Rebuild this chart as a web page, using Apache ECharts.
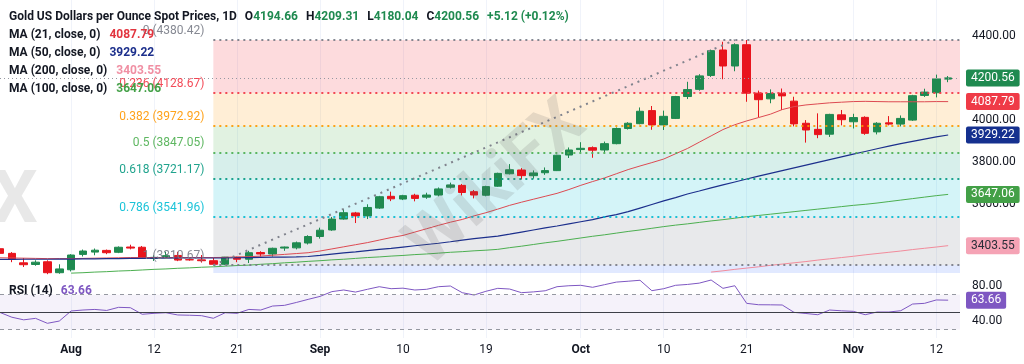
<!DOCTYPE html>
<html>
<head>
<meta charset="utf-8">
<script src="https://cdn.jsdelivr.net/npm/echarts@6/dist/echarts.min.js"></script>
<style>
html,body{margin:0;padding:0;background:#fff;}
#c{width:1024px;height:364px;}
</style>
</head>
<body>
<div id="c"></div>
<script>
// ---------------- DATA ----------------
const dates = ["Jul 24","Jul 25","Jul 28","Jul 29","Jul 30","Jul 31","Aug 1","Aug 4","Aug 5","Aug 6","Aug 7","Aug 8","Aug 11","Aug 12","Aug 13","Aug 14","Aug 15","Aug 18","Aug 19","Aug 20","Aug 21","Aug 22","Aug 25","Aug 26","Aug 27","Aug 28","Aug 29","Sep 1","Sep 2","Sep 3","Sep 4","Sep 5","Sep 8","Sep 9","Sep 10","Sep 11","Sep 12","Sep 15","Sep 16","Sep 17","Sep 18","Sep 19","Sep 22","Sep 23","Sep 24","Sep 25","Sep 26","Sep 29","Sep 30","Oct 1","Oct 2","Oct 3","Oct 6","Oct 7","Oct 8","Oct 9","Oct 10","Oct 13","Oct 14","Oct 15","Oct 16","Oct 17","Oct 20","Oct 21","Oct 22","Oct 23","Oct 24","Oct 27","Oct 28","Oct 29","Oct 30","Oct 31","Nov 3","Nov 4","Nov 5","Nov 6","Nov 7","Nov 10","Nov 11","Nov 12","Nov 13","Nov 14"];

const opens  = [3389,3367,3322,3314,3327,3275,3289,3362,3373,3381,3372,3397,3396,3343,3348,3357,3337,3336,3332,3315,3348,3339,3371,3364,3392,3393,3416,3447,3478,3530,3559,3545,3582,3638,3625,3643,3634,3644,3681,3690,3660,3643,3686,3745,3763,3736,3750,3760,3834,3860,3869,3858,3888,3960,3983,4045,3977,4008,4112,4146,4212,4333,4257,4358,4128,4101,4128,4090,3985,3956,3933,4025,3992,4013,3944,3987,3981,4000,4117,4130,4194.66];
const closes = [3367,3339,3313,3325,3275,3293,3359,3378,3382,3370,3396,3392,3344,3348,3356,3335,3336,3332,3315,3349,3339,3370,3364,3391,3397,3417,3447,3477,3530,3560,3545,3585,3636,3626,3641,3628,3644,3673,3692,3656,3644,3684,3747,3764,3736,3749,3760,3833,3858,3866,3857,3888,3960,3985,4042,3977,4018,4112,4145,4210,4330,4257,4358,4128,4097,4126,4115,3982,3953,3931,4027,4002,4012,3937,3985,3981,4008,4116,4133,4195.44,4200.56];
const lows   = [3352,3325,3302,3308,3268,3270,3281,3352,3358,3363,3368,3386,3342,3331,3344,3330,3332,3323,3314,3311,3325,3321,3352,3352,3379,3386,3409,3437,3474,3527,3511,3530,3578,3615,3620,3614,3626,3638,3675,3642,3628,3638,3683,3742,3718,3722,3740,3758,3820,3848,3821,3846,3885,3955,3980,3954,3953,4005,4100,4140,4205,4194,4232,4087,4013,4080,4048,3970,3893,3914,3920,3975,3960,3930,3932,3975,3970,3996,4110,4108,4180.04];
const highs  = [3394,3373,3345,3334,3334,3315,3363,3385,3390,3385,3400,3408,3402,3358,3375,3374,3345,3359,3345,3350,3351,3379,3377,3394,3399,3423,3453,3489,3540,3578,3564,3600,3640,3660,3645,3650,3655,3680,3703,3697,3668,3688,3750,3791,3772,3761,3775,3835,3870,3895,3875,3898,3965,3990,4060,4067,4045,4115,4182,4218,4335,4372,4365,4380.42,4140,4146,4150,4111,4000,4032,4030,4048,4030,4018,3990,4019,4022,4120,4149,4216,4209.31];

const ma21 = [3346,3345,3344,3343,3342,3342,3342,3343,3344,3345,3346,3347,3347,3347,3347,3347,3347,3347,3347,3348,3350,3351,3354,3358,3362,3366,3370,3378,3388,3398,3408,3418,3430,3442,3452,3468,3484,3500,3515,3528,3545,3560,3577,3595,3610,3624,3638,3652,3670,3690,3708,3725,3745,3765,3782,3798,3815,3840,3865,3895,3925,3955,3978,3996,4012,4028,4050,4064,4072,4077,4082,4085,4088,4089,4088,4087,4087,4087,4087,4088,4087.79];
const ma50 = [3338,3338,3339,3339,3339,3340,3340,3341,3341,3342,3342,3343,3343,3344,3344,3345,3345,3345,3345,3345,3346,3347,3348,3349,3349,3350,3352,3357,3363,3369,3374,3380,3386,3391,3397,3403,3409,3415,3422,3430,3437,3443,3449,3458,3468,3478,3488,3497,3507,3517,3527,3540,3551,3565,3582,3599,3616,3632,3649,3663,3678,3692,3706,3720,3734,3747,3760,3773,3786,3799,3812,3825,3838,3851,3864,3876,3888,3899,3910,3920,3929.22];
const ma100Start = 6;
const ma100 = [3273,3275,3278,3280,3283,3285,3288,3291,3293,3296,3298,3301,3303,3306,3309,3311,3315,3318,3322,3325,3329,3332,3336,3339,3343,3347,3350,3354,3357,3361,3364,3368,3372,3375,3379,3382,3386,3394,3401,3409,3417,3424,3432,3440,3448,3455,3463,3471,3478,3486,3494,3501,3507,3514,3521,3527,3534,3541,3547,3553,3559,3565,3571,3577,3583,3589,3595,3600,3606,3613,3620,3627,3634,3641,3647.06];
const ma200Start = 60;
const ma200 = [3278,3284,3291,3297,3303,3310,3316,3322,3328,3335,3341,3347,3353,3360,3366,3372,3378,3385,3391,3397,3403.55];

const rsi = [49.5,44,41,42.7,37,39.6,51.2,52.3,53,51.8,55.4,55,47.4,48.5,49.2,46.6,46.3,45.8,42.8,49.2,48.5,53,52.3,56.9,57.7,61,64.6,68,73.5,75.4,73,76.2,79.2,76.9,77.5,75.4,76.2,79.2,80,72.3,69.6,73.9,77.3,76.5,72.3,73.2,74.5,79.2,80.3,80.8,78.5,81.5,84.5,85.5,86.6,74.6,76.9,80.8,81.8,83.3,86.9,77.3,80.3,60,58.4,58.3,58.1,49.6,48.3,46.9,52.3,51.4,50.8,46.9,50,50,51.5,59.2,60,63.9,63.66];

const fibRatios = ["0","0.236","0.382","0.5","0.618","0.786","1"];
const fibPrices = [4380.42,4128.67,3972.92,3847.05,3721.17,3541.96,3310.67];
const fibStart = "Aug 19";
const fibTrendStart = "Aug 19";
const fibTrendEnd = "Oct 20";

const tickLabels = {"Aug 1":"Aug","Aug 12":"12","Aug 21":"21","Sep 1":"Sep","Sep 10":"10","Sep 19":"19","Oct 1":"Oct","Oct 10":"10","Oct 21":"21","Nov 3":"Nov","Nov 12":"12"};
const priceTicks = [3600,3800,4000,4400];
const rsiTicks = [40,80];
const rsiBands = [30,50,70];
const watermarkText = "WikiFX";

// ---------------- STYLE ----------------
const FONT = "Roboto, 'Liberation Sans', Arial, sans-serif";
const UP = '#1f8a50', DOWN = '#e8141d';
const TXT = '#131722';
const fibLineColors = ['#787b86','#f23645','#ff9800','#4caf50','#089981','#00bcd4','#787b86'];
const fibFill = ['rgba(242,54,69,0.18)','rgba(255,152,0,0.16)','rgba(76,175,80,0.17)','rgba(8,153,129,0.16)','rgba(0,188,212,0.17)','rgba(120,123,134,0.17)','rgba(41,98,255,0.14)'];
const PRICE_MIN = 3200, PRICE_MAX = 4570.5, PANEL_BOTTOM = 3273.6;
const NONE = 'rgba(0,0,0,0)';

// ---------------- BUILD ----------------
const n = opens.length;
const last = n - 1;
const lastDate = dates[dates.length - 1];
const candleData = opens.map((o, i) => [o, closes[i], lows[i], highs[i]]);
const pad = (start, arr) => new Array(start).fill(null).concat(arr);
const ma100Data = pad(ma100Start, ma100);
const ma200Data = pad(ma200Start, ma200);
const isTick = (idx) => tickLabels.hasOwnProperty(dates[idx]);

function badgeLabel(value, bg, fg) {
  return {
    show: true, position: 'end', distance: 6,
    formatter: value.toFixed(2),
    backgroundColor: bg, color: fg || '#ffffff',
    padding: [3,5,2,5], fontSize: 12, fontFamily: FONT, borderRadius: 2
  };
}
function badge(value, bg, fg) {
  return {
    silent: true,
    symbol: ['none','none'],
    emphasis: {disabled: true},
    data: [{yAxis: value, lineStyle: {color: NONE, width: 0}, label: badgeLabel(value, bg, fg)}]
  };
}

const fibAreas = [];
for (let k = 0; k < fibPrices.length - 1; k++) {
  fibAreas.push([{xAxis: fibStart, yAxis: fibPrices[k], itemStyle: {color: fibFill[k]}}, {xAxis: lastDate, yAxis: fibPrices[k+1]}]);
}
fibAreas.push([{xAxis: fibStart, yAxis: fibPrices[fibPrices.length-1], itemStyle: {color: fibFill[6]}}, {xAxis: lastDate, yAxis: PANEL_BOTTOM}]);

const fibLines = fibPrices.map((p, k) => [
  {xAxis: fibStart, yAxis: p,
   lineStyle: {color: fibLineColors[k], type: [2,4], width: 2, opacity: 0.9},
   label: {show: true, position: 'start', distance: 9, verticalAlign: 'bottom', padding: [0,0,3,0],
           formatter: fibRatios[k] + ' (' + p.toFixed(2) + ')', color: fibLineColors[k], fontSize: 12, fontFamily: FONT}},
  {xAxis: lastDate, yAxis: p}
]);
fibLines.push([
  {xAxis: fibTrendStart, yAxis: fibPrices[fibPrices.length-1], lineStyle: {color: '#80838d', type: [2,5], width: 2}, label: {show: false}},
  {xAxis: fibTrendEnd, yAxis: fibPrices[0]}
]);

const chg = closes[last] - closes[last-1];
const chgPct = chg / closes[last-1] * 100;
const sgn = (v) => (v >= 0 ? '+' : '');

const titleRich = {
  n: {color: TXT, fontSize: 12, fontFamily: FONT},
  k: {color: TXT, fontSize: 12, fontFamily: FONT, padding: [0,0,0,8]},
  v: {color: UP, fontSize: 12, fontFamily: FONT},
  r: {color: '#e2353f', fontSize: 12, fontFamily: FONT, padding: [0,0,0,9]},
  b: {color: '#1c2f8c', fontSize: 12, fontFamily: FONT, padding: [0,0,0,9]},
  p: {color: '#f08fa3', fontSize: 12, fontFamily: FONT, padding: [0,0,0,9]},
  g: {color: '#43a047', fontSize: 12, fontFamily: FONT, padding: [0,0,0,9]},
  u: {color: '#7e57c2', fontSize: 12, fontFamily: FONT, padding: [0,0,0,8]}
};
function legendTitle(text, top) {
  return {text: text, left: 9, top: top, padding: 0, z: 20, textStyle: {rich: titleRich, fontSize: 12, fontFamily: FONT, color: TXT}};
}

const option = {
  animation: false,
  backgroundColor: '#ffffff',
  textStyle: {fontFamily: FONT},
  title: [
    legendTitle('{n|Gold US Dollars per Ounce Spot Prices, 1D}{k|O}{v|' + opens[last].toFixed(2) + '}{k|H}{v|' + highs[last].toFixed(2) + '}{k|L}{v|' + lows[last].toFixed(2) + '}{k|C}{v|' + closes[last].toFixed(2) + '}{k|}{v|' + sgn(chg) + chg.toFixed(2) + ' (' + sgn(chgPct) + chgPct.toFixed(2) + '%)}', 11),
    legendTitle('{n|MA (21, close, 0)}{r|' + ma21[last].toFixed(2) + '}', 29),
    legendTitle('{n|MA (50, close, 0)}{b|' + ma50[last].toFixed(2) + '}', 47),
    legendTitle('{n|MA (200, close, 0)}{p|' + ma200[ma200.length-1].toFixed(2) + '}', 65),
    legendTitle('{n|MA (100, close, 0)}{g|' + ma100[ma100.length-1].toFixed(2) + '}', 83),
    legendTitle('{n|RSI (14)}{u|' + rsi[last].toFixed(2) + '}', 285)
  ],
  graphic: [
    {type: 'text', left: 395, top: 90, z: 30, silent: true, rotation: 0.72,
     style: {text: watermarkText, fontSize: 68, fontWeight: 'bold', fontFamily: FONT, fill: 'rgba(100,100,100,0.17)'}},
    {type: 'text', left: -8, top: 168, z: 30, silent: true,
     style: {text: 'X', fontSize: 72, fontWeight: 'bold', fontFamily: FONT, fill: 'rgba(100,100,100,0.15)'}}
  ],
  grid: [
    {left: 0, right: 64, top: 0, height: 288.5},
    {left: 0, right: 64, top: 268.65, height: 69.4}
  ],
  xAxis: [
    {type: 'category', gridIndex: 0, data: dates, boundaryGap: false,
     axisLine: {show: false}, axisTick: {show: false}, axisLabel: {show: false},
     splitLine: {show: true, interval: (i) => isTick(i), lineStyle: {color: '#f0f3fa', width: 1}}},
    {type: 'category', gridIndex: 1, data: dates, boundaryGap: false,
     axisLine: {show: false}, axisTick: {show: false},
     splitLine: {show: true, interval: (i) => isTick(i), lineStyle: {color: '#f0f3fa', width: 1}},
     axisLabel: {show: true, margin: 6, interval: (i) => isTick(i), fontSize: 12, color: TXT, fontFamily: FONT,
       formatter: (v) => { const t = tickLabels[v] || ''; return /^[A-Z]/.test(t) ? '{m|' + t + '}' : t; },
       rich: {m: {fontWeight: 'bold', fontSize: 12, color: TXT, fontFamily: FONT}}}}
  ],
  yAxis: [
    {type: 'value', gridIndex: 0, position: 'right', min: PRICE_MIN, max: PRICE_MAX, interval: 200,
     axisLine: {show: false}, axisTick: {show: false}, splitLine: {show: false},
     axisLabel: {margin: 12, color: TXT, fontSize: 12, fontFamily: FONT, showMaxLabel: false, formatter: (v) => priceTicks.indexOf(v) >= 0 ? v.toFixed(2) : ''}},
    {type: 'value', gridIndex: 1, position: 'right', min: 20, max: 100, interval: 20,
     axisLine: {show: false}, axisTick: {show: false}, splitLine: {show: false},
     axisLabel: {margin: 12, color: TXT, fontSize: 12, fontFamily: FONT, formatter: (v) => rsiTicks.indexOf(v) >= 0 ? v.toFixed(2) : ''}}
  ],
  series: [
    {
      name: 'fib', type: 'line', xAxisIndex: 0, yAxisIndex: 0, data: [], z: 1, silent: true,
      markArea: {silent: true, data: fibAreas},
      markLine: {silent: true, symbol: ['none','none'], emphasis: {disabled: true}, data: fibLines}
    },
    {
      name: 'Gold', type: 'candlestick', xAxisIndex: 0, yAxisIndex: 0, data: candleData, z: 3,
      barWidth: 8,
      itemStyle: {color: UP, color0: DOWN, borderColor: UP, borderColor0: DOWN, borderWidth: 1},
      markLine: {
        silent: true, symbol: ['none','none'], emphasis: {disabled: true},
        data: [{yAxis: closes[last], lineStyle: {color: '#9598a1', type: [1,3], width: 1}, label: badgeLabel(closes[last], UP)}]
      }
    },
    {name: 'MA21', type: 'line', xAxisIndex: 0, yAxisIndex: 0, data: ma21, showSymbol: false, z: 4,
     lineStyle: {color: '#dd4a52', width: 1}, markLine: badge(ma21[last], '#ef3b47')},
    {name: 'MA50', type: 'line', xAxisIndex: 0, yAxisIndex: 0, data: ma50, showSymbol: false, z: 4,
     lineStyle: {color: '#1c2f8c', width: 1.2}, markLine: badge(ma50[last], '#15308f')},
    {name: 'MA100', type: 'line', xAxisIndex: 0, yAxisIndex: 0, data: ma100Data, showSymbol: false, z: 4,
     lineStyle: {color: '#4caf50', width: 1}, markLine: badge(ma100[ma100.length-1], '#43a047')},
    {name: 'MA200', type: 'line', xAxisIndex: 0, yAxisIndex: 0, data: ma200Data, showSymbol: false, z: 4,
     lineStyle: {color: '#f28b9b', width: 1}, markLine: badge(ma200[ma200.length-1], '#f5a3b5', '#2a2e39')},
    {
      name: 'RSI', type: 'line', xAxisIndex: 1, yAxisIndex: 1, data: rsi, showSymbol: false, z: 4,
      lineStyle: {color: '#7e57c2', width: 1},
      markArea: {silent: true, data: [[{xAxis: dates[0], yAxis: rsiBands[0], itemStyle: {color: 'rgba(126,87,194,0.08)'}}, {xAxis: lastDate, yAxis: rsiBands[2]}]]},
      markLine: {
        silent: true, symbol: ['none','none'], emphasis: {disabled: true},
        data: [
          {yAxis: rsiBands[2], lineStyle: {color: '#9598a1', type: [4,4], width: 1}, label: {show: false}},
          {yAxis: rsiBands[0], lineStyle: {color: '#9598a1', type: [4,4], width: 1}, label: {show: false}},
          {yAxis: rsiBands[1], lineStyle: {color: '#3c3f47', type: 'solid', width: 1}, label: {show: false}},
          {yAxis: rsi[last], lineStyle: {color: NONE, width: 0}, label: badgeLabel(rsi[last], '#7e57c2')}
        ]
      }
    }
  ]
};

const chart = echarts.init(document.getElementById('c'), null, {renderer: 'canvas'});
chart.setOption(option);
</script>
</body>
</html>
